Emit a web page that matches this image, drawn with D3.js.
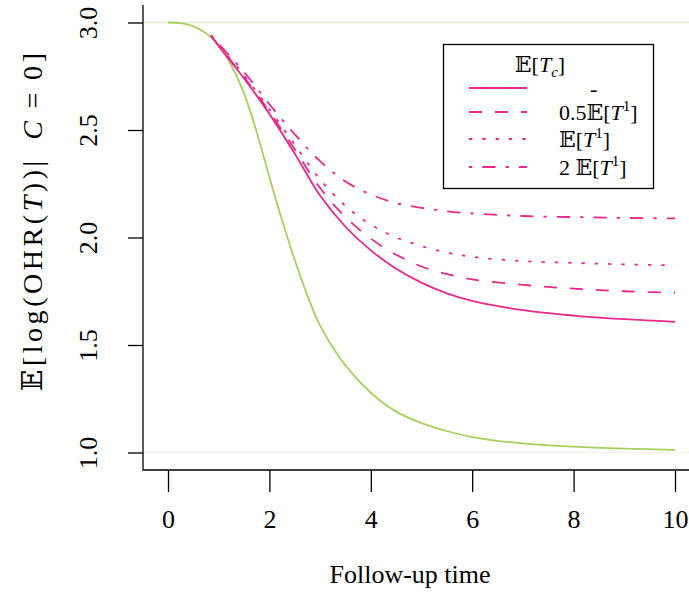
<!DOCTYPE html>
<html><head><meta charset="utf-8">
<script src="https://cdn.jsdelivr.net/npm/d3@7"></script>
<style>body{margin:0;background:#fff}svg{display:block}text{font-family:"Liberation Serif","DejaVu Serif",serif;fill:#000}</style>
</head><body><svg id="c" width="689" height="592"></svg>
<script>
// ---- data ----
const greenT = [0,0.25,0.5,0.75,1,1.25,1.5,1.75,2,2.25,2.5,2.75,3,3.5,4,4.5,5,5.5,6,7,8,9,10];
const greenV = [3.0,2.997,2.982,2.95,2.895,2.80,2.67,2.49,2.28,2.08,1.895,1.73,1.59,1.405,1.278,1.19,1.137,1.10,1.072,1.042,1.027,1.018,1.012];
const pinkT = [0.85,1,1.5,2,2.5,3,3.5,4,4.5,5,5.5,6,7,8,9,10];
const solidV   = [2.94,2.89,2.74,2.575,2.39,2.195,2.05,1.94,1.855,1.79,1.74,1.705,1.662,1.637,1.62,1.608];
const halfV    = [2.94,2.892,2.746,2.585,2.41,2.23,2.095,1.995,1.92,1.865,1.83,1.805,1.78,1.762,1.75,1.743];
const oneV     = [2.94,2.895,2.754,2.596,2.432,2.27,2.147,2.06,2.0,1.96,1.93,1.91,1.89,1.882,1.875,1.871];
const twoV     = [2.94,2.90,2.77,2.62,2.48,2.355,2.26,2.20,2.16,2.138,2.122,2.112,2.10,2.095,2.091,2.089];
const xTicks = [0,2,4,6,8,10];
const yTicks = [1.0,1.5,2.0,2.5,3.0];
const refLines = [3,1];

const SERIF = '"Liberation Serif","DejaVu Serif",serif';
const PINK = "#E7298A", GREEN = "#A6D160";
const svg = d3.select("#c");
const x = d3.scaleLinear().domain([0,10]).range([168,675]);
const y = d3.scaleLinear().domain([1,3]).range([452.5,22.5]);

// reference lines
svg.append("line").attr("x1",143).attr("x2",689).attr("y1",y(refLines[0])).attr("y2",y(refLines[0]))
  .attr("stroke","#E3EFD3").attr("stroke-width",1.5);
svg.append("line").attr("x1",143).attr("x2",689).attr("y1",y(refLines[1])).attr("y2",y(refLines[1]))
  .attr("stroke","#F2F2F2").attr("stroke-width",1.5);

// L box
svg.append("path").attr("d","M143,5V470H689").attr("fill","none").attr("stroke","#000").attr("stroke-width",1.3);

// axes ticks
const xAxis = d3.axisBottom(x).tickValues(xTicks).tickSize(22).tickPadding(20).tickFormat(d3.format("d"));
const gx = svg.append("g").attr("transform","translate(0,470)").call(xAxis)
  .attr("font-family",SERIF).attr("font-size",26);
gx.select(".domain").remove();
gx.selectAll("line").attr("stroke","#000").attr("stroke-width",1.3);
gx.selectAll("text").attr("dy","0.71em").attr("y",40);

const yAxis = d3.axisLeft(y).tickValues(yTicks).tickSize(15).tickFormat(d3.format(".1f"));
const gy = svg.append("g").attr("transform","translate(143,0)").call(yAxis)
  .attr("font-family",SERIF).attr("font-size",26);
gy.select(".domain").remove();
gy.selectAll("line").attr("stroke","#000").attr("stroke-width",1.3);
gy.selectAll("text").attr("x",null).attr("dy",null).attr("text-anchor","middle")
  .attr("transform","translate(-46,0) rotate(-90)").attr("y",0);

// curves
const line = (ts) => d3.line().x((d,i)=>x(ts[i])).y(d=>y(d)).curve(d3.curveCatmullRom);
svg.append("path").attr("d",line(greenT)(greenV)).attr("fill","none").attr("stroke",GREEN).attr("stroke-width",1.8);
const series = [
  {v:solidV, dash:null},
  {v:halfV, dash:"13,13"},
  {v:oneV, dash:"3.3,10"},
  {v:twoV, dash:"3.3,10,13.3,10"}
];
series.forEach(s=>{
  svg.append("path").attr("d",line(pinkT)(s.v)).attr("fill","none").attr("stroke",PINK)
    .attr("stroke-width",1.8).attr("stroke-dasharray",s.dash);
});

// axis titles
svg.append("text").attr("x",410).attr("y",583).attr("text-anchor","middle").attr("font-size",26).text("Follow-up time");
const yt = svg.append("text").attr("transform","translate(42,222) rotate(-90)").attr("text-anchor","middle")
  .attr("font-size",28).attr("textLength",338).attr("lengthAdjust","spacing");
yt.append("tspan").text("𝔼[log(OHR(");
yt.append("tspan").attr("font-style","italic").text("T");
yt.append("tspan").text("))|\u2002");
yt.append("tspan").attr("font-style","italic").text("C");
yt.append("tspan").text("\u2009=\u20090]");

// legend
const lg = svg.append("g");
lg.append("rect").attr("x",443.5).attr("y",44.5).attr("width",210).attr("height",144).attr("fill","#fff").attr("stroke","#000").attr("stroke-width",1.3);
const lt = lg.append("text").attr("x",540).attr("y",72).attr("text-anchor","middle").attr("font-size",22);
lt.append("tspan").text("𝔼[");
lt.append("tspan").attr("font-style","italic").text("T");
lt.append("tspan").attr("font-style","italic").attr("font-size",15).attr("dy",5).text("c");
lt.append("tspan").attr("dy",-5).text("]");
const rowsY = [88,112,139,167];
const labels = [["-"],["0.5𝔼[","T","1","]"],["𝔼[","T","1","]"],["2 𝔼[","T","1","]"]];
series.forEach((s,i)=>{
  lg.append("line").attr("x1",469).attr("x2",527).attr("y1",rowsY[i]).attr("y2",rowsY[i])
    .attr("stroke",PINK).attr("stroke-width",1.8).attr("stroke-dasharray",s.dash);
  const t = lg.append("text").attr("x",i===0?590:559).attr("y",rowsY[i]+8).attr("font-size",22);
  const L = labels[i];
  if (L.length===1){ t.text(L[0]); }
  else {
    t.append("tspan").text(L[0]);
    t.append("tspan").attr("font-style","italic").text(L[1]);
    t.append("tspan").attr("font-size",15).attr("dy",-9).text(L[2]);
    t.append("tspan").attr("dy",9).text(L[3]);
  }
});
</script></body></html>
